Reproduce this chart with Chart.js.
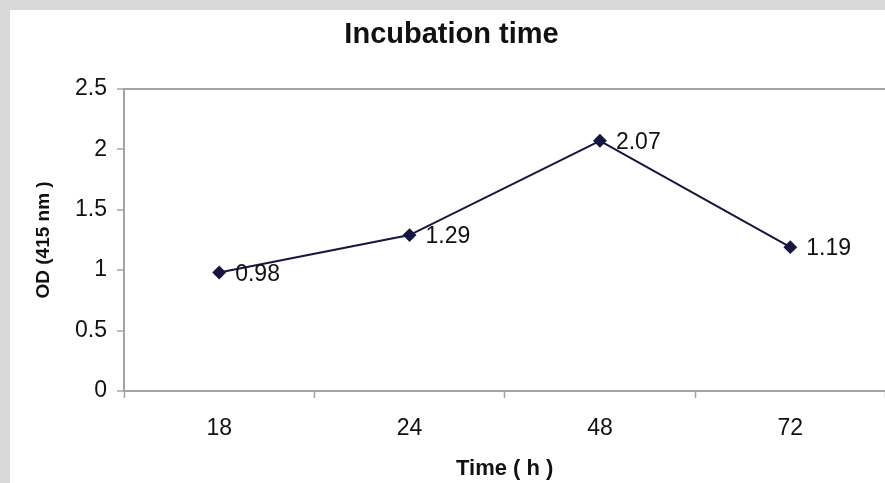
<!DOCTYPE html>
<html>
<head>
<meta charset="utf-8">
<script src="https://cdn.jsdelivr.net/npm/chart.js@4"></script>
<style>
  html, body { margin: 0; padding: 0; background: #d8d8d8; overflow: hidden; }
  #wrap { position: absolute; left: 10px; top: 10px; width: 883px; height: 473px; background: #fff; }
</style>
</head>
<body>
<div id="wrap"><canvas id="chart" width="883" height="473"></canvas></div>
<script>
const hours = ['18', '24', '48', '72'];
const odValues = [0.98, 1.29, 2.07, 1.19];
const yTicks = [0, 0.5, 1, 1.5, 2, 2.5];

const axisGray = '#a3a3a3';
const lineColor = '#16163f';
const font = 'Liberation Sans, Arial, sans-serif';

// value labels to the right of each point
const pointLabels = {
  id: 'pointLabels',
  afterDatasetsDraw(chart) {
    const ctx = chart.ctx;
    const meta = chart.getDatasetMeta(0);
    ctx.save();
    ctx.font = '23px ' + font;
    ctx.fillStyle = '#111';
    ctx.textAlign = 'left';
    ctx.textBaseline = 'middle';
    meta.data.forEach((pt, i) => {
      ctx.fillText(String(odValues[i]), pt.x + 16, pt.y + 2);
    });
    ctx.restore();
  }
};

new Chart(document.getElementById('chart'), {
  type: 'line',
  data: {
    labels: hours,
    datasets: [{
      data: odValues,
      borderColor: lineColor,
      backgroundColor: lineColor,
      borderWidth: 2,
      pointStyle: 'rectRot',
      pointRadius: 5.5,
      tension: 0
    }]
  },
  options: {
    responsive: false,
    animation: false,
    layout: { padding: 0 },
    plugins: {
      legend: { display: false },
      tooltip: { enabled: false },
      title: {
        display: true,
        text: 'Incubation time',
        color: '#111',
        font: { family: font, size: 29, weight: 'bold' },
        padding: { top: 8, bottom: 36 }
      }
    },
    scales: {
      x: {
        offset: true,
        grid: {
          offset: true,
          drawOnChartArea: false,
          tickLength: 7,
          tickColor: axisGray,
          tickWidth: 1.5
        },
        border: { color: axisGray, width: 2 },
        ticks: {
          color: '#111',
          font: { family: font, size: 23 },
          padding: 17
        },
        title: {
          display: true,
          text: 'Time ( h )',
          color: '#111',
          font: { family: font, size: 22, weight: 'bold' },
          padding: { top: 0, bottom: 1 }
        },
        afterFit(scale) { scale.height = 92; }
      },
      y: {
        min: 0,
        max: 2.5,
        afterBuildTicks(scale) { scale.ticks = yTicks.map(v => ({ value: v })); },
        grid: {
          color: c => (c.tick && c.tick.value === 2.5 ? axisGray : 'transparent'),
          lineWidth: 2,
          tickLength: 7,
          tickColor: axisGray,
          tickWidth: 1.5
        },
        border: { color: axisGray, width: 2 },
        ticks: {
          color: '#111',
          font: { family: font, size: 23 },
          padding: 10,
          callback: v => String(v)
        },
        title: {
          display: true,
          text: 'OD (415 nm )',
          color: '#111',
          font: { family: font, size: 19, weight: 'bold' },
          padding: { top: 22, bottom: 0 }
        },
        afterFit(scale) { scale.width = 114; }
      }
    }
  },
  plugins: [pointLabels]
});
</script>
</body>
</html>
